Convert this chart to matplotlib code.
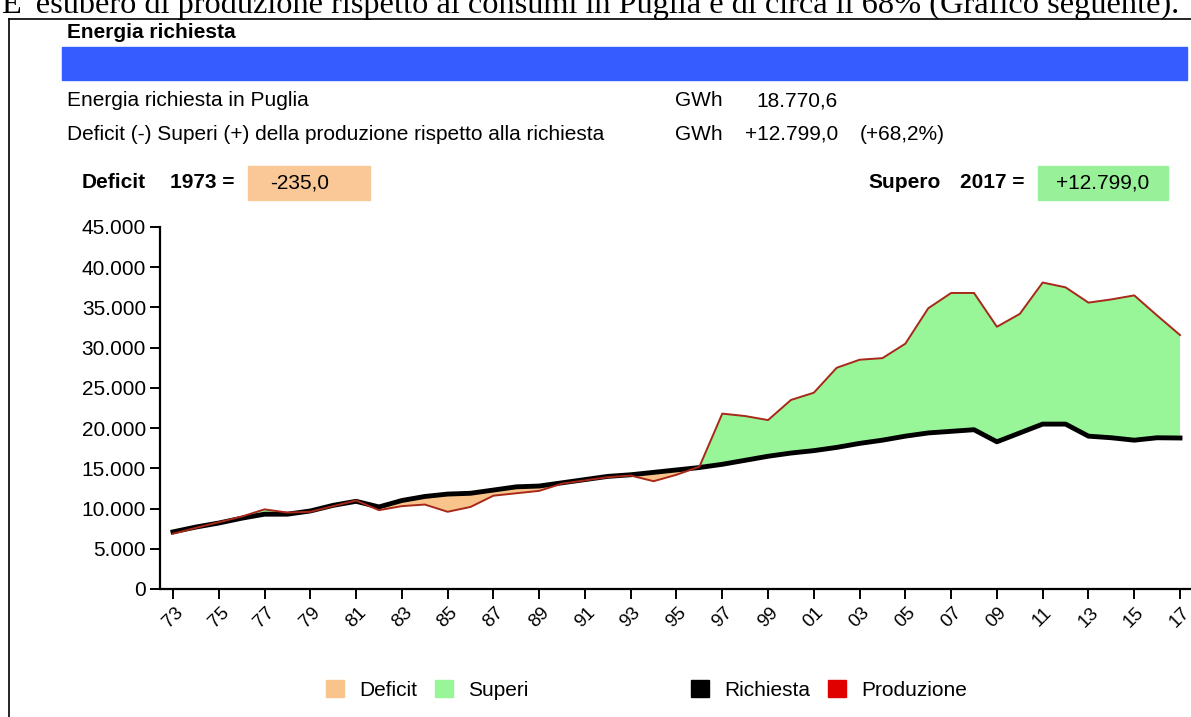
import matplotlib.pyplot as plt
from matplotlib.patches import Patch, Rectangle
from matplotlib.lines import Line2D

plt.rcParams['font.family'] = ['Liberation Sans', 'DejaVu Sans']

# energy data, thousand GWh (last year from the header)
years = list(range(1973, 2018))
richiesta = [7.10, 7.70, 8.20, 8.80, 9.30, 9.30, 9.70, 10.40, 10.90, 10.20,
             11.00, 11.50, 11.80, 11.90, 12.30, 12.70, 12.80, 13.20, 13.60, 14.00,
             14.20, 14.50, 14.80, 15.10, 15.50, 16.00, 16.50, 16.90, 17.20, 17.60,
             18.10, 18.50, 19.00, 19.40, 19.60, 19.80, 18.30, 19.40, 20.50, 20.50,
             19.00, 18.80, 18.50, 18.80, 18.77]
produzione = [6.87, 7.60, 8.30, 9.00, 9.90, 9.50, 9.60, 10.30, 11.00, 9.80,
              10.30, 10.50, 9.60, 10.20, 11.60, 11.90, 12.20, 13.10, 13.50, 13.90,
              14.10, 13.40, 14.20, 15.20, 21.80, 21.50, 21.00, 23.50, 24.40, 27.50,
              28.50, 28.70, 30.50, 34.90, 36.80, 36.80, 32.60, 34.20, 38.10, 37.50,
              35.60, 36.00, 36.50, 34.00, 31.57]
richiesta = [v * 1000 for v in richiesta]
produzione = [v * 1000 for v in produzione]

tick_years = list(range(1973, 2018, 2))
tick_labels = ["%02d" % (y % 100) for y in tick_years]
y_ticks = list(range(0, 45001, 5000))

W, H = 1191, 717
fig = plt.figure(figsize=(W / 100, H / 100), dpi=100)
fig.patch.set_facecolor('white')


def fx(x):
    return x / W


def fy(y):
    return 1 - y / H


# document text above the chart (cut by the page edge, as in the source)
fig.text(fx(2), fy(13), "E' esubero di produzione rispetto ai consumi in Puglia è di circa il 68% (Grafico seguente).",
         family='Liberation Serif', fontsize=23.3, va='baseline', ha='left')

# frame of the pasted picture
fig.add_artist(Line2D([fx(9), 1], [fy(19), fy(19)], color='black', lw=1.2))
fig.add_artist(Line2D([fx(9), fx(9)], [fy(19), 0], color='black', lw=1.2))

fs = 15

# header
fig.text(fx(67), fy(33), "Energia richiesta", fontsize=fs, fontweight='bold', va='center')
fig.add_artist(Rectangle((fx(62), fy(80)), fx(1187 - 62), (80 - 47) / H, color='#365cff'))

fig.text(fx(67), fy(101), "Energia richiesta in Puglia", fontsize=fs, va='center')
fig.text(fx(675), fy(101), "GWh", fontsize=fs, va='center')
fig.text(fx(838), fy(101), "18.770,6", fontsize=fs, va='center', ha='right')
fig.text(fx(67), fy(134), "Deficit (-) Superi (+) della produzione rispetto alla richiesta", fontsize=fs, va='center')
fig.text(fx(675), fy(134), "GWh", fontsize=fs, va='center')
fig.text(fx(838), fy(134), "+12.799,0", fontsize=fs, va='center', ha='right')
fig.text(fx(860), fy(134), "(+68,2%)", fontsize=fs, va='center')

fig.add_artist(Rectangle((fx(248), fy(200)), fx(370 - 248), 34 / H, color='#f9c896'))
fig.text(fx(82), fy(183), "Deficit", fontsize=fs, fontweight='bold', va='center')
fig.text(fx(170), fy(183), "1973 =", fontsize=fs, fontweight='bold', va='center')
fig.text(fx(300), fy(183), "-235,0", fontsize=fs, va='center', ha='center')

fig.add_artist(Rectangle((fx(1038), fy(200)), fx(1168 - 1038), 34 / H, color='#98f098'))
fig.text(fx(868), fy(183), "Supero", fontsize=fs, fontweight='bold', va='center')
fig.text(fx(960), fy(183), "2017 =", fontsize=fs, fontweight='bold', va='center')
fig.text(fx(1103), fy(183), "+12.799,0", fontsize=fs, va='center', ha='center')

# chart
ax = fig.add_axes([fx(160), fy(589), fx(1191 - 160), (589 - 227) / H])
ax.set_facecolor('white')
ax.set_xlim(1973 - 13 / 22.9, 2017 + 11 / 22.9)
ax.set_ylim(0, 45000)

ax.fill_between(years, richiesta, produzione,
                where=[p >= r for p, r in zip(produzione, richiesta)],
                interpolate=True, color='#98f598', lw=0)
ax.fill_between(years, richiesta, produzione,
                where=[p < r for p, r in zip(produzione, richiesta)],
                interpolate=True, color='#f9c48c', lw=0)
ax.plot(years, richiesta, color='black', lw=3.5, solid_joinstyle='round')
ax.plot(years, produzione, color='#a8281a', lw=1.4)

ax.spines['top'].set_visible(False)
ax.spines['right'].set_visible(False)
ax.spines['left'].set_linewidth(1.6)
ax.spines['bottom'].set_linewidth(1.6)

ax.set_yticks(y_ticks)
ax.set_yticklabels([f"{v:,}".replace(',', '.') for v in y_ticks], fontsize=fs)
ax.set_xticks(tick_years)
ax.set_xticklabels(tick_labels, fontsize=13.5, rotation=45, ha='center')
ax.tick_params(axis='both', direction='out', length=7, width=1.4)
ax.tick_params(axis='y', pad=3)
ax.tick_params(axis='x', pad=4)

# legends
leg_kw = dict(loc='center left', ncol=2, frameon=False, fontsize=fs, borderpad=0,
              handlelength=0.85, handleheight=0.9, handletextpad=0.72, columnspacing=0.87)
h_fill = [Patch(color='#f9c48c', label='Deficit'), Patch(color='#98f598', label='Superi')]
h_line = [Patch(color='black', label='Richiesta'), Patch(color='#e00000', label='Produzione')]
fig.legend(handles=h_fill, bbox_to_anchor=(fx(316), fy(690)), **leg_kw)
fig.legend(handles=h_line, bbox_to_anchor=(fx(681), fy(690)), **leg_kw)

fig.savefig('out.png', dpi=100)
